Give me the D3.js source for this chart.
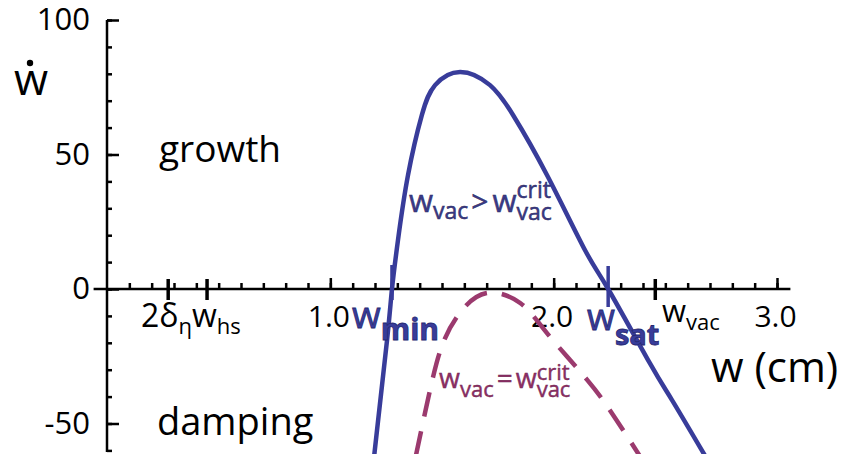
<!DOCTYPE html>
<html>
<head>
<meta charset="utf-8">
<script src="https://cdn.jsdelivr.net/npm/d3@7"></script>
<style>
  body { margin: 0; background: #fff; }
  svg { display: block; font-family: "Open Sans", "Noto Sans", sans-serif; }
  .axis path, .axis line { stroke: #000; stroke-width: 2.5; }
  .axis .domain { display: none; }
</style>
</head>
<body>
<script>
// growth rate curves (w in cm, wdot)
const blueW    = [1.195, 1.254, 1.276, 1.303, 1.348, 1.410, 1.469, 1.581, 1.715, 1.818, 1.970, 2.140, 2.244, 2.430, 2.530, 2.685];
const blueRate = [-63,   -19,   0,     18.2,  42.4,  64.7,  75.8,  80.7,  75.8,  64.7,  42.4,  14.5,  0,     -27.5, -41.3, -63];
const critW    = [1.383, 1.424, 1.460, 1.505, 1.580, 1.700, 1.850, 1.970, 2.150, 2.266, 2.385];
const critRate = [-62,   -46,   -32.7, -20,   -8.9,  -1.5,  -5.2,  -16.4, -33.8, -46.8, -62];

const xTickValues = [1, 2, 3];
const xTickLabels = ["1.0", "2.0", "3.0"];
const yTickValues = [100, 50, 0, -50];
const yTickLabels = ["100", "50", "0", "-50"];

// special positions on the w axis: 2delta_eta, w_hs, w_vac
const markW = [0.274, 0.448, 2.455];
const wMin = 1.276, wSat = 2.244;

const width = 843, height = 454;
const blue = "#383c9a", magenta = "#9b3a6e";

let svg = d3.select("body").append("svg")
  .attr("width", width).attr("height", height);

let x = d3.scaleLinear().domain([0, 3]).range([107, 777]);
let y = d3.scaleLinear().domain([0, 100]).range([289, 20]);

// axis lines
svg.append("line")
  .attr("x1", x(-0.06)).attr("x2", x(3.06))
  .attr("y1", y(0)).attr("y2", y(0))
  .attr("stroke", "#000").attr("stroke-width", 2.5);
svg.append("line")
  .attr("x1", x(0)).attr("x2", x(0))
  .attr("y1", y(100)).attr("y2", y(-60.6))
  .attr("stroke", "#000").attr("stroke-width", 2.5);

// x minor ticks (upward)
svg.append("g").attr("class", "axis")
  .attr("transform", "translate(0," + y(0) + ")")
  .call(d3.axisTop(x).tickValues(d3.range(1, 31).map(i => i / 10)).tickSize(6).tickFormat(""))
  .selectAll("line").attr("stroke-width", 1.5);
// x major ticks
svg.append("g").attr("class", "axis")
  .attr("transform", "translate(0," + y(0) + ")")
  .call(d3.axisTop(x).tickValues(xTickValues).tickSize(11).tickFormat(""))
  .selectAll("line").attr("stroke-width", 1.8);
// x labels
svg.append("g").attr("class", "axis")
  .attr("transform", "translate(0," + y(0) + ")")
  .call(d3.axisBottom(x).tickValues(xTickValues).tickSize(0).tickPadding(17)
    .tickFormat((d, i) => xTickLabels[i]))
  .selectAll("text").attr("font-size", 30).attr("fill", "#000")
  .attr("font-family", "Open Sans").attr("dx", -2);

// special ticks crossing the axis
svg.selectAll(".mark").data(markW).join("line")
  .attr("class", "mark")
  .attr("x1", d => x(d)).attr("x2", d => x(d))
  .attr("y1", y(0) - 10).attr("y2", y(0) + 11)
  .attr("stroke", "#000").attr("stroke-width", 3.5);

// y minor ticks (right side)
svg.append("g").attr("class", "axis")
  .attr("transform", "translate(" + x(0) + ",0)")
  .call(d3.axisRight(y).tickValues(d3.range(-60, 101, 10)).tickSize(5).tickFormat(""))
  .selectAll("line").attr("stroke-width", 1.5);
svg.append("g").attr("class", "axis")
  .attr("transform", "translate(" + x(0) + ",0)")
  .call(d3.axisRight(y).tickValues(yTickValues).tickSize(12).tickFormat(""))
  .selectAll("line").attr("stroke-width", 2);
svg.append("g").attr("class", "axis")
  .attr("transform", "translate(" + x(0) + ",0)")
  .call(d3.axisLeft(y).tickValues(yTickValues).tickSize(0).tickPadding(17)
    .tickFormat((d, i) => yTickLabels[i]))
  .selectAll("text").attr("font-size", 31).attr("fill", "#000")
  .attr("font-family", "Open Sans");

// curves
svg.append("clipPath").attr("id", "plot")
  .append("rect").attr("x", 0).attr("y", 0).attr("width", width).attr("height", height);

let line = d3.line().curve(d3.curveNatural)
  .x(d => x(d[0])).y(d => y(d[1]));

svg.append("path")
  .datum(critW.map((w, i) => [w, critRate[i]]))
  .attr("d", line)
  .attr("clip-path", "url(#plot)")
  .attr("fill", "none").attr("stroke", magenta)
  .attr("stroke-width", 4.5).attr("stroke-dasharray", "25,15");

svg.append("path")
  .datum(blueW.map((w, i) => [w, blueRate[i]]))
  .attr("d", line)
  .attr("clip-path", "url(#plot)")
  .attr("fill", "none").attr("stroke", blue)
  .attr("stroke-width", 4.5);

// w_min and w_sat markers
svg.selectAll(".wmark").data([wMin, wSat]).join("line")
  .attr("class", "wmark")
  .attr("x1", d => x(d)).attr("x2", d => x(d))
  .attr("y1", (d, i) => i ? 266 : 265).attr("y2", (d, i) => i ? 307 : 300)
  .attr("stroke", blue).attr("stroke-width", 3.5);

// text pieces placed one after the other; stack = next piece starts at same x
function richText(x0, y0, parts, attrs) {
  let g = svg.append("g");
  let cx = x0, stackW = 0;
  parts.forEach(p => {
    let t = g.append("text")
      .attr("x", cx).attr("y", y0 + (p.dy || 0))
      .attr("font-size", p.size)
      .text(p.t);
    if (p.weight) t.attr("font-weight", p.weight);
    let w = t.node().getComputedTextLength();
    if (p.stack) {
      stackW = Math.max(stackW, w);
    } else {
      cx += Math.max(w, stackW) + (p.gap || 0);
      stackW = 0;
    }
  });
  Object.keys(attrs).forEach(k => g.attr(k, attrs[k]));
  return g;
}

// axis titles
richText(14, 95, [{ t: "w", size: 44 }], { fill: "#000" });
svg.append("circle").attr("cx", 30).attr("cy", 63).attr("r", 3.2).attr("fill", "#000");
svg.append("text").attr("x", 711).attr("y", 382).attr("font-size", 42).text("w (cm)");

svg.append("text").attr("x", 159).attr("y", 162).attr("font-size", 37).text("growth");
svg.append("text").attr("x", 157).attr("y", 435).attr("font-size", 38).text("damping");

// tick annotations
richText(141, 327, [
  { t: "2δ", size: 32 }, { t: "η", size: 22, dy: 7 },
  { t: "w", size: 32 }, { t: "hs", size: 22, dy: 7 }
], { fill: "#000" });
richText(662, 322, [{ t: "w", size: 31 }, { t: "vac", size: 22, dy: 8 }], { fill: "#000" });

richText(352, 328, [{ t: "w", size: 37 }, { t: "min", size: 30, dy: 12, weight: 700 }],
  { fill: blue, stroke: "#262870", "stroke-width": 0.8 });
richText(587, 330, [{ t: "w", size: 36 }, { t: "sat", size: 29, dy: 15, weight: 700 }],
  { fill: blue, stroke: "#262870", "stroke-width": 0.8 });

// curve labels
richText(409, 212, [
  { t: "w", size: 31 }, { t: "vac", size: 23, dy: 7, gap: 3 },
  { t: ">", size: 30, gap: 4 },
  { t: "w", size: 31 }, { t: "crit", size: 23, dy: -14, stack: true }, { t: "vac", size: 23, dy: 8 }
], { fill: "#3a3a8c", stroke: "#2a2a5a", "stroke-width": 0.5 });

richText(439, 388, [
  { t: "w", size: 27 }, { t: "vac", size: 22, dy: 9, gap: 3 },
  { t: "=", size: 28, gap: 3 },
  { t: "w", size: 27 }, { t: "crit", size: 22, dy: -8, stack: true }, { t: "vac", size: 22, dy: 9 }
], { fill: "#8e2f66", stroke: "#6e1f4e", "stroke-width": 0.4 });
</script>
</body>
</html>
